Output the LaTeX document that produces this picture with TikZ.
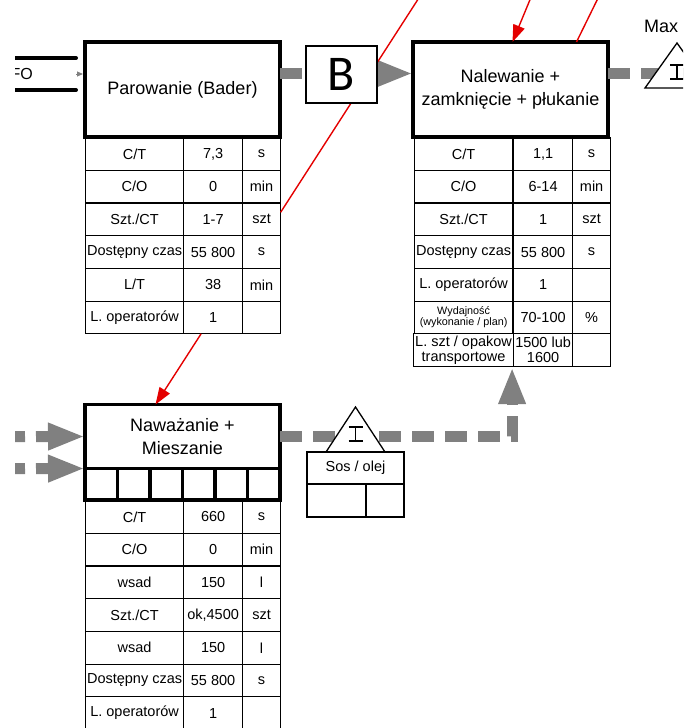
\documentclass[tikz,border=0pt]{standalone}
\usepackage{fontspec}
\setmainfont{Liberation Sans}
\newfontfamily\signfont{Carlito}
\usetikzlibrary{positioning,matrix,arrows.meta}
\definecolor{pushgray}{RGB}{128,128,128}
\definecolor{infored}{RGB}{228,0,0}

\begin{document}
\begin{tikzpicture}[x=1pt, y=-1pt,
                        process/.style={
                            draw,
                            line width=3.5pt,
                            fill=white,
                            minimum width=195pt,
                            minimum height=95pt,
                            inner sep=0pt,
                            outer sep=0pt,
                            align=center,
                            font=\fontsize{18}{22.5}\selectfont
                        },
                        datatable/.style={
                            matrix of nodes,
                            nodes in empty cells,
                            anchor=north west,
                            inner sep=0pt,
                            outer sep=0pt,
                            row sep=-1.2pt,
                            column sep=-1.2pt,
                            nodes={
                                draw,
                                line width=1.2pt,
                                minimum height=32.7pt,
                                inner sep=0pt,
                                outer sep=0pt,
                                anchor=center,
                                font=\fontsize{14.5}{15}\selectfont
                            },
                            column 1/.style={nodes={minimum width=98pt}},
                            column 2/.style={nodes={minimum width=59pt}},
                            column 3/.style={nodes={minimum width=38pt}}
                        },
                        push/.style={
                            draw=pushgray,
                            line width=11pt,
                            dash pattern=on 22pt off 11pt
                        },
                        pushtip/.style={
                            -{Triangle[length=37pt, width=25pt]}
                        },
                        kanban/.style={
                            draw=infored,
                            line width=1.4pt
                        },
                        kanbantip/.style={
                            -{Triangle[length=17pt, width=12pt]}
                        },
                        invtri/.style={
                            draw,
                            line width=1.3pt,
                            fill=white
                        },
                        invmark/.style={
                            draw,
                            line width=1.2pt
                        },
                        sosbox/.style={
                            draw,
                            line width=1.3pt,
                            fill=white,
                            minimum height=32pt,
                            inner sep=0pt,
                            outer sep=0pt,
                            font=\fontsize{14.5}{15}\selectfont
                        }
                    ]

                    \useasboundingbox (0,0) rectangle (683,728);
                    \clip (15,0) rectangle (683,728);

                    % Parowanie (process box + data table)
                    \node[process,
                        anchor=north west
                    ] (parowanie) at (85,42) {Parowanie (Bader)};

                    \matrix[datatable] (partab) at (parowanie.south west) {
                        C/T & 7,3 & s \\
                        C/O & 0 & min \\
                        Szt./CT & 1-7 & szt \\
                        Dostępny czas & 55 800 & s \\
                        L/T & 38 & min \\
                        L. operatorów & 1 & \\
                    };

                    % Nalewanie (process box + data table)
                    \node[process,
                        anchor=north west
                    ] (nalewanie) at ([xshift=133pt]parowanie.north east)
                        {Nalewanie +\\zamknięcie + płukanie};

                    \matrix[datatable] (naltab) at (nalewanie.south west) {
                        C/T & 1,1 & s \\
                        C/O & 6-14 & min \\
                        Szt./CT & 1 & szt \\
                        Dostępny czas & 55 800 & s \\
                        L. operatorów & 1 & \\
                        |[font=\fontsize{10.8}{11.2}\selectfont]| \parbox{98pt}{\centering Wydajność\par (wykonanie / plan)} & 70-100 & \% \\
                        \parbox{100pt}{\centering L. szt / opakow\par transportowe} & \parbox{59pt}{\centering 1500 lub\par 1600} & \\
                    };

                    % Nawazanie (process box, cell row, data table)
                    \node[process,
                        minimum height=64pt,
                        anchor=north west
                    ] (nawazanie) at (85,404.5) {Naważanie +\\Mieszanie};

                    \node[process,
                        minimum height=31.5pt,
                        anchor=north west
                    ] (nawcells) at (nawazanie.south west) {};
                    \foreach \i in {1,...,5}
                        \draw[line width=3.5pt] ([xshift=\i*32.5pt]nawcells.north west)
                            -- ([xshift=\i*32.5pt]nawcells.south west);

                    \matrix[datatable] (nawtab) at (nawcells.south west) {
                        C/T & 660 & s \\
                        C/O & 0 & min \\
                        wsad & 150 & l \\
                        Szt./CT & ok,4500 & szt \\
                        wsad & 150 & l \\
                        Dostępny czas & 55 800 & s \\
                        L. operatorów & 1 & \\
                    };

                    % FIFO lane (left, clipped)
                    \draw[line width=4pt, line cap=round] (5,58) -- (76,58) (5,90) -- (76,90);
                    \node[anchor=east, inner sep=0pt, font=\fontsize{16}{16}\selectfont]
                        (fifo) at (33,74) {FIFO};
                    \coordinate (fifoend) at (76,74);
                    \draw[pushgray, line width=0.8pt, shorten >=2pt,
                        -{Triangle[length=6pt, width=5pt]}] (fifoend) -- (fifoend -| parowanie.west);

                    % Push arrows (grey, dashed)
                    \draw[push, pushtip] ([yshift=16pt]parowanie.east) -- ([yshift=16pt]nalewanie.west);
                    \coordinate (outflow) at (700,73.5);
                    \draw[push] ([yshift=16pt]nalewanie.east) -- (outflow);
                    \coordinate (inflowA) at (3,436.6);
                    \coordinate (inflowB) at (3,468.7);
                    \draw[push, pushtip] (inflowA) -- (nawazanie.west);
                    \draw[push, pushtip] (inflowB) -- (nawazanie.south west);
                    \draw[push, pushtip, line join=miter] (nawazanie.east) -| (naltab.south);

                    % Information flow (red)
                    \coordinate (kanbanA) at (424,-10);
                    \coordinate (kanbanC) at (534,-10);
                    \coordinate (kanbanD) at (602,-10);
                    \draw[kanban] ([yshift=7pt]partab-3-3.east) -- (kanbanA);
                    \draw[kanban, kanbantip] ([xshift=-12pt]partab-6-2.south) -- ([xshift=-27pt]nawazanie.north);
                    \draw[kanban, kanbantip] (kanbanC) -- ([xshift=2pt]nalewanie.north);
                    \draw[kanban] (kanbanD) -- ([xshift=66pt]nalewanie.north);

                    % Batch box (B, between the two processes)
                    \node[draw,
                        line width=1.6pt,
                        fill=white,
                        minimum width=71pt,
                        minimum height=57pt,
                        inner sep=0pt,
                        font=\signfont\fontsize{50}{50}\selectfont
                    ] (batch) at (341.5,74.5) {B};

                    % Inventory Max (right, clipped)
                    \coordinate (maxtop) at (677,43);
                    \draw[invtri] (maxtop) -- ++(32,45) -- ++(-64,0) -- cycle;
                    \draw[invmark] ([shift={(-7,22)}]maxtop) -- ++(14,0)
                        ([shift={(0,22)}]maxtop) -- ++(0,14)
                        ([shift={(-7,36)}]maxtop) -- ++(14,0);
                    \node[font=\fontsize{18}{18}\selectfont] (maxlabel) at (661,26) {Max};

                    % Inventory Sos / olej (below dashed push arrow)
                    \coordinate (sostop) at (355.5,407);
                    \draw[invtri] (sostop) -- ++(29.5,45) -- ++(-59,0) -- cycle;
                    \draw[invmark] ([shift={(-7,20)}]sostop) -- ++(14,0)
                        ([shift={(0,20)}]sostop) -- ++(0,14)
                        ([shift={(-7,34)}]sostop) -- ++(14,0);
                    \node[sosbox,
                        minimum width=97pt,
                        anchor=north
                    ] (sos) at ([shift={(0,45)}]sostop) {Sos / olej};
                    \node[sosbox,
                        minimum width=59pt,
                        minimum height=33pt,
                        anchor=north west
                    ] (sosleft) at (sos.south west) {};
                    \node[sosbox,
                        minimum width=38pt,
                        minimum height=33pt,
                        anchor=north east
                    ] (sosright) at (sos.south east) {};
                    \end{tikzpicture}
\end{document}
